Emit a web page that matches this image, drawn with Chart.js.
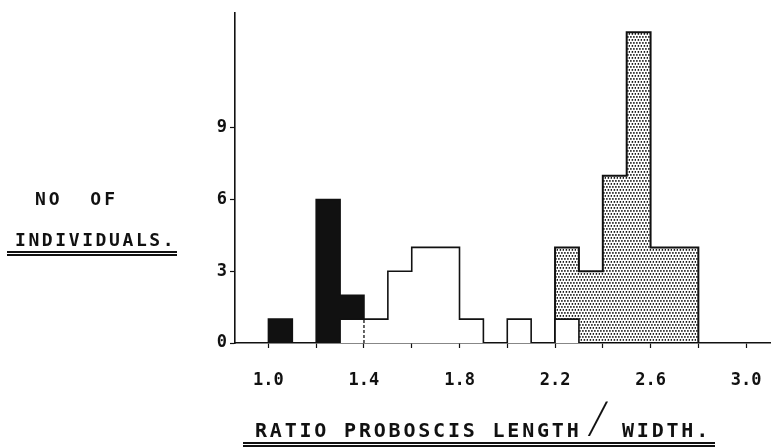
<!DOCTYPE html>
<html>
<head>
<meta charset="utf-8">
<script src="https://cdn.jsdelivr.net/npm/chart.js@4"></script>
<style>
  body { margin: 0; background: #fff; }
  #wrap { position: relative; width: 775px; height: 447px; overflow: hidden; }
  #myChart { position: absolute; left: 0; top: 0; }
  .lbl { position: absolute; font-family: "DejaVu Sans Mono", monospace; font-weight: bold; color: #111; white-space: pre; line-height: 1; }
  .dbl { position: absolute; height: 0; border-top: 5px double #111; }
  .slash { position: absolute; font-family: "DejaVu Sans", sans-serif; font-weight: 200; color: #111; line-height: 1; transform: skewX(-12deg); }
</style>
</head>
<body>
<div id="wrap">
  <canvas id="myChart" width="775" height="447"></canvas>
  <div class="lbl" style="left:35px;top:190px;font-size:18px;letter-spacing:3px">NO  OF</div>
  <div class="lbl" style="left:15px;top:231px;font-size:18px;letter-spacing:2.6px">INDIVIDUALS.</div>
  <div class="dbl" style="left:7px;top:251px;width:170px"></div>
  <div class="lbl" style="left:255px;top:420px;font-size:20px;letter-spacing:2.8px">RATIO PROBOSCIS LENGTH</div>
  <div class="slash" style="left:591px;top:397px;font-size:42px">/</div>
  <div class="lbl" style="left:622px;top:420px;font-size:20px;letter-spacing:2.8px">WIDTH.</div>
  <div class="dbl" style="left:243px;top:442px;width:472px"></div>
</div>
<script>
// bins are 0.1 wide, edges from 1.0 to 2.8
var binEdges = [1.0, 1.1, 1.2, 1.3, 1.4, 1.5, 1.6, 1.7, 1.8, 1.9, 2.0, 2.1, 2.2, 2.3, 2.4, 2.5, 2.6, 2.7, 2.8];
// counts per bin for each group (open bins sit underneath the others)
var darkCounts    = [1, 0, 6, 1, 0, 0, 0, 0, 0, 0, 0, 0, 0, 0, 0, 0, 0, 0];
var openCounts    = [0, 0, 0, 1, 1, 3, 4, 4, 1, 0, 1, 0, 1, 0, 0, 0, 0, 0];
var stippleCounts = [0, 0, 0, 0, 0, 0, 0, 0, 0, 0, 0, 0, 3, 3, 7, 13, 4, 4];
var xTicks = [1.0, 1.2, 1.4, 1.6, 1.8, 2.0, 2.2, 2.4, 2.6, 2.8, 3.0];
var xTickLabels = ['1.0', '', '1.4', '', '1.8', '', '2.2', '', '2.6', '', '3.0'];
var yTicks = [0, 3, 6, 9];
var dividerAt = 1.4;

var ink = '#111';

// stacked top of a group on top of the open bins
function stackOnOpen(counts) {
  return counts.map((c, i) => c ? c + openCounts[i] : 0);
}

// step outline points for a histogram
function outline(tops) {
  let pts = [];
  for (let i = 0; i < tops.length; i++) {
    if (!tops[i]) continue;
    if (i == 0 || !tops[i - 1]) pts.push({x: binEdges[i], y: 0});
    pts.push({x: binEdges[i], y: tops[i]});
    if (i == tops.length - 1 || !tops[i + 1]) pts.push({x: binEdges[i + 1], y: 0});
  }
  return pts;
}

var ctx = document.getElementById('myChart').getContext('2d');

// dotted fill
var pc = document.createElement('canvas');
pc.width = 6; pc.height = 6;
var pctx = pc.getContext('2d');
pctx.fillStyle = '#000';
[[0, 0], [3, 0], [1.5, 3], [4.5, 3]].forEach(p => {
  pctx.beginPath(); pctx.arc(p[0] + 0.9, p[1] + 0.9, 0.85, 0, Math.PI * 2); pctx.fill();
});
var dots = ctx.createPattern(pc, 'repeat');

var tickFont = {family: 'DejaVu Sans Mono', size: 17, weight: 'bold'};

var myChart = new Chart(ctx, {
  type: 'line',
  data: {
    datasets: [{
      label: 'divider',
      data: [{x: dividerAt, y: 0}, {x: dividerAt, y: openCounts[binEdges.indexOf(dividerAt)]}],
      borderColor: ink,
      borderWidth: 1.3,
      borderDash: [3, 2],
      fill: false,
      order: 0
    }, {
      label: 'open',
      data: outline(openCounts),
      borderColor: ink,
      backgroundColor: '#fff',
      borderWidth: 1.6,
      stepped: true,
      fill: 'origin',
      order: 1
    }, {
      label: 'dark',
      data: outline(stackOnOpen(darkCounts)),
      borderColor: ink,
      backgroundColor: ink,
      borderWidth: 1.6,
      stepped: true,
      fill: 'origin',
      order: 2
    }, {
      label: 'stippled',
      data: outline(stackOnOpen(stippleCounts)),
      borderColor: ink,
      backgroundColor: dots,
      borderWidth: 2,
      stepped: true,
      fill: 'origin',
      order: 3
    }]
  },
  options: {
    responsive: false,
    animation: false,
    layout: {padding: {top: 10, right: 5, left: 0, bottom: 0}},
    elements: {point: {radius: 0}, line: {tension: 0}},
    plugins: {legend: {display: false}, tooltip: {enabled: false}},
    scales: {
      x: {
        type: 'linear',
        min: 0.86,
        max: 3.1,
        afterBuildTicks: s => { s.ticks = xTicks.map(v => ({value: v})); },
        afterFit: s => { s.height = 104; s.paddingLeft = 0; s.paddingRight = 0; },
        grid: {drawOnChartArea: false, drawTicks: true, tickLength: 5, color: ink, tickWidth: 1.2},
        border: {display: true, color: ink, width: 1.6},
        ticks: {
          autoSkip: false, maxRotation: 0, padding: 22, color: ink, font: tickFont,
          callback: (v, i) => xTickLabels[i]
        }
      },
      y: {
        min: 0,
        max: 13.8,
        afterBuildTicks: s => { s.ticks = yTicks.map(v => ({value: v})); },
        afterFit: s => { s.width = 235; },
        grid: {drawOnChartArea: false, drawTicks: true, tickLength: 5, color: ink, tickWidth: 1.2},
        border: {display: true, color: ink, width: 1.6},
        ticks: {padding: 3, color: ink, font: tickFont}
      }
    }
  }
});
</script>
</body>
</html>
